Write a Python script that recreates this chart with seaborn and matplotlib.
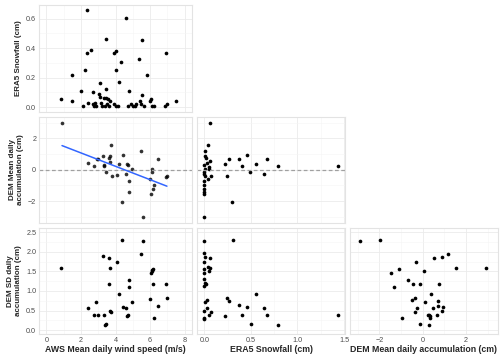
import matplotlib
matplotlib.use('Agg')
import matplotlib.pyplot as plt
import seaborn as sns
from matplotlib.ticker import MultipleLocator

# 风速 vs ERA5 降雪（第一行）
ws_top = [0.87, 1.50, 1.50, 1.98, 2.14, 2.22, 2.35, 2.37, 2.43, 2.58, 2.68, 2.70, 2.75, 2.83, 2.89,
          3.08, 3.02, 3.12, 3.18, 3.24, 3.31, 3.37, 3.43, 3.45, 3.47, 3.53, 3.58, 3.64, 3.70, 3.91,
          3.91, 4.01, 4.05, 4.05, 4.14, 4.20, 4.34, 4.59, 4.70, 4.78, 4.87, 5.01, 5.10, 5.19, 5.34,
          5.40, 5.48, 5.53, 5.55, 5.62, 5.82, 6.01, 6.07, 6.11, 6.20, 6.88, 6.92, 6.96, 7.51]
sf_top = [0.055, 0.22, 0.04, 0.11, 0.005, 0.25, 0.66, 0.37, 0.03, 0.39, 0.105, 0.02, 0.005, 0.03, 0.005,
          0.167, 0.09, 0.07, 0.03, 0.005, 0.06, 0.005, 0.46, 0.12, 0.06, 0.02, 0.055, 0.005, 0.04, 0.37,
          0.02, 0.25, 0.38, 0.005, 0.005, 0.17, 0.305, 0.605, 0.005, 0.11, 0.02, 0.005, 0.005, 0.02, 0.325,
          0.04, 0.02, 0.455, 0.08, 0.005, 0.22, 0.045, 0.055, 0.005, 0.005, 0.005, 0.365, 0.02, 0.04]

# 风速 vs DEM 平均日积累（第二行）
ws_mid = [0.91, 2.43, 2.75, 2.91, 3.00, 3.29, 3.33, 3.35, 3.43, 3.60, 3.66, 3.70, 3.72, 3.78, 4.08,
          4.18, 4.39, 4.41, 4.62, 4.68, 4.74, 4.78, 4.76, 4.93, 5.45, 5.59, 6.01, 6.03, 6.09, 6.13,
          6.17, 6.24, 6.47, 6.92, 6.97]
mean_mid = [3.0, 0.45, 0.24, 0.71, 0.71, 0.90, 0.21, 0.32, -0.17, 0.75, 0.51, 0.86, 1.56, -0.41, -0.34,
            0.385, -2.07, 0.94, -0.30, 0.34, 0.28, -0.75, -1.43, 0.06, 1.18, -3.04, -0.56, -1.54, 0.04, -0.17,
            -1.22, -1.0, 0.68, -0.47, -0.41]

# ERA5 降雪 vs DEM 平均日积累
sf_mid = [0.057, 0.036, 0.011, 0.007, 0.021, 0.061, 0.032, 0.0, 0.047, 0.05, 0.007, 0.0, 0.0, 0.01,
          0.07, 0.036, 0.0, 0.0, 0.0, 0.0, 0.0, 0.0, 0.22, 0.24, 0.27, 0.30, 0.37, 0.40, 0.46, 0.49,
          0.55, 0.64, 0.67, 0.79, 1.44]
mean_mid2 = [3.0, 1.56, 1.18, 0.88, 0.73, 0.53, 0.45, 0.32, 0.19, 0.04, 0.06, -0.17, -0.30, -0.38,
             -0.41, -0.60, -0.73, -1.0, -1.22, -1.43, -1.54, -3.04, 0.34, -0.41, 0.71, -2.05, 0.66, 0.26,
             0.92, -0.17, 0.36, -0.30, 0.66, 0.24, 0.21]

# 风速 vs DEM 标准差（第三行）
ws_bot = [0.87, 2.41, 2.75, 2.89, 3.00, 3.28, 3.33, 3.37, 3.43, 3.60, 3.62, 3.70, 3.68, 3.76, 4.08,
          4.18, 4.37, 4.41, 4.62, 4.68, 4.74, 4.76, 4.78, 4.93, 5.45, 5.59, 5.99, 6.03, 6.09, 6.13,
          6.17, 6.17, 6.24, 6.47, 6.92, 6.97]
sd_bot = [1.59, 0.57, 0.39, 0.73, 0.39, 1.89, 0.39, 0.14, 0.15, 1.18, 1.85, 1.60, 0.50, 0.46, 1.73,
          0.92, 2.31, 0.60, 0.57, 0.37, 0.39, 1.11, 1.29, 0.73, 1.95, 2.29, 0.79, 1.45, 1.50, 1.53,
          1.56, 1.19, 0.31, 0.62, 1.17, 0.82]

# ERA5 降雪 vs DEM 标准差
sf_bot = [0.0, 0.31, 0.0, 0.007, 0.061, 0.0, 0.036, 0.057, 0.0, 0.054, 0.0, 0.0, 0.007, 0.018, 0.0,
          0.55, 0.24, 0.032, 0.27, 0.011, 0.37, 0.46, 0.029, 0.64, 0.0, 0.075, 0.047, 0.22, 0.40, 0.67,
          1.44, 0.0, 0.0, 0.50, 0.79]
sd_bot2 = [2.29, 2.31, 1.96, 1.88, 1.85, 1.73, 1.61, 1.58, 1.56, 1.50, 1.45, 1.30, 1.20, 1.18, 1.13,
           0.93, 0.82, 0.78, 0.74, 0.73, 0.63, 0.60, 0.57, 0.57, 0.49, 0.47, 0.39, 0.37, 0.39, 0.39,
           0.39, 0.31, 0.29, 0.16, 0.14]

# DEM 平均 vs DEM 标准差
mean_bot = [-2.92, -1.97, 1.17, 0.89, 0.54, -0.29, 1.54, 2.94, -1.12, 0.06, -1.48, -0.68, -0.43, -0.12,
            0.74, -1.35, 0.40, -0.34, -0.52, 0.12, 0.72, 0.69, 0.92, -0.25, 0.46, 0.88, -0.37, 0.22,
            0.28, 0.34, 0.68, 0.34, -0.94, -0.14, 0.28]
sd_bot3 = [2.29, 2.31, 1.95, 1.88, 1.85, 1.73, 1.60, 1.58, 1.55, 1.51, 1.45, 1.29, 1.17, 1.18,
           1.17, 1.11, 0.92, 0.82, 0.78, 0.73, 0.74, 0.62, 0.60, 0.56, 0.56, 0.49, 0.46, 0.39,
           0.39, 0.37, 0.38, 0.31, 0.31, 0.15, 0.13]

lab_ws = 'AWS Mean daily wind speed (m/s)'
lab_sf = 'ERA5 Snowfall (cm)'
lab_mean = 'DEM Mean daily\naccumulation (cm)'
lab_sd = 'DEM SD daily\naccumulation (cm)'
lab_mean_x = 'DEM Mean daily accumulation (cm)'

sns.set_style('white')
plt.rcParams['font.family'] = ['Liberation Sans', 'DejaVu Sans']

fig = plt.figure(figsize=(5, 3.59), dpi=100)
W, H = 500, 359
cols = [(39, 192), (197, 345), (350, 497.7)]
rows = [(5, 112), (117, 222.5), (228, 334)]

def make_ax(r, c):
    x0, x1 = cols[c]
    y0, y1 = rows[r]
    return fig.add_axes([x0 / W, 1 - y1 / H, (x1 - x0) / W, (y1 - y0) / H])

xlims = [(-0.42, 8.42), (-0.078, 1.51), (-3.36, 3.46)]
xmaj = [2, 0.5, 2]
ylims = [(-0.033, 0.693), (-3.37, 3.37), (-0.1, 2.61)]
ymaj = [0.2, 2, 0.5]

def style(ax, r, c):
    ax.set_xlim(*xlims[c])
    ax.set_ylim(*ylims[r])
    ax.xaxis.set_major_locator(MultipleLocator(xmaj[c]))
    ax.xaxis.set_minor_locator(MultipleLocator(xmaj[c] / 2))
    ax.yaxis.set_major_locator(MultipleLocator(ymaj[r]))
    ax.yaxis.set_minor_locator(MultipleLocator(ymaj[r] / 2))
    ax.grid(which='major', color='#EBEBEB', lw=0.6)
    ax.grid(which='minor', color='#F5F5F5', lw=0.4)
    ax.set_axisbelow(True)
    for s in ax.spines.values():
        s.set_color('#E3E3E3')
        s.set_linewidth(0.8)
    ax.tick_params(which='both', length=0, labelsize=5.2, colors='#4D4D4D', pad=2)
    if c != 0:
        ax.set_yticklabels([])
    if r != 2:
        ax.set_xticklabels([])
    ax.set_xlabel('')
    ax.set_ylabel('')

pt = dict(color='black', s=7, linewidth=0)
ylab = dict(fontsize=5.8, fontweight='bold', labelpad=3, linespacing=1.1)
xlab = dict(fontsize=6.3, fontweight='bold', labelpad=1)

ax = make_ax(0, 0)
sns.scatterplot(x=ws_top, y=sf_top, ax=ax, **pt)
style(ax, 0, 0)
ax.set_ylabel(lab_sf, **ylab)

ax = make_ax(1, 0)
ax.axhline(0, color='#A0A0A0', ls=(0, (3, 2)), lw=0.9)
sns.regplot(x=ws_mid, y=mean_mid, ax=ax, ci=None, color='black',
            scatter_kws=dict(s=7, linewidths=0), line_kws=dict(color='#3366FF', lw=1.1))
style(ax, 1, 0)
ax.set_ylabel(lab_mean, **ylab)

ax = make_ax(1, 1)
ax.axhline(0, color='#A0A0A0', ls=(0, (3, 2)), lw=0.9)
sns.scatterplot(x=sf_mid, y=mean_mid2, ax=ax, **pt)
style(ax, 1, 1)

ax = make_ax(2, 0)
sns.scatterplot(x=ws_bot, y=sd_bot, ax=ax, **pt)
style(ax, 2, 0)
ax.set_ylabel(lab_sd, **ylab)
ax.set_xlabel(lab_ws, **xlab)

ax = make_ax(2, 1)
sns.scatterplot(x=sf_bot, y=sd_bot2, ax=ax, **pt)
style(ax, 2, 1)
ax.set_xlabel(lab_sf, **xlab)

ax = make_ax(2, 2)
sns.scatterplot(x=mean_bot, y=sd_bot3, ax=ax, **pt)
style(ax, 2, 2)
ax.set_xlabel(lab_mean_x, **xlab)

fig.savefig('out.png', dpi=100)
